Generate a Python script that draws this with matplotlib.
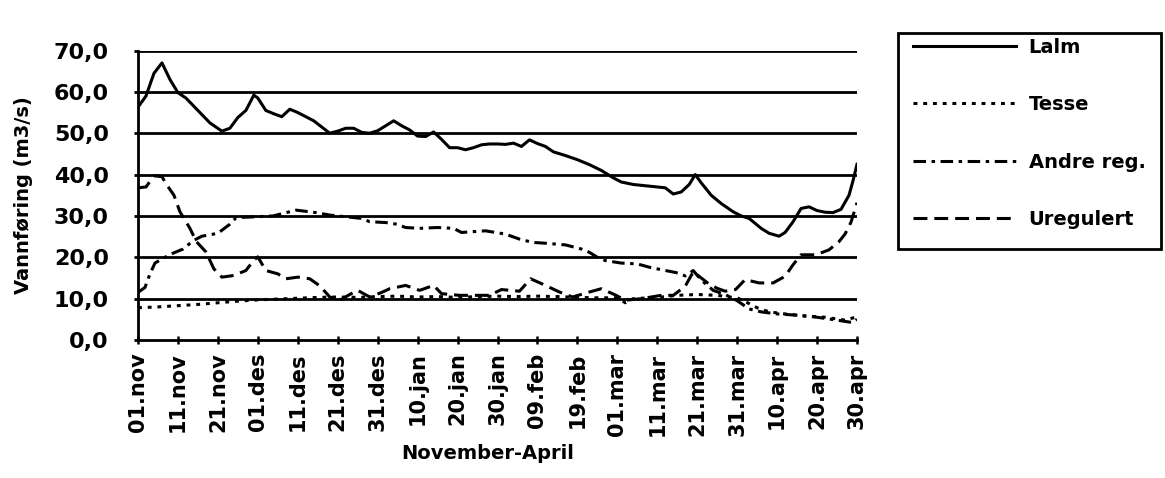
import matplotlib
matplotlib.use("Agg")
import matplotlib.pyplot as plt
from matplotlib.patches import Rectangle

# ---- data ----
tick_labels = ["01.nov", "11.nov", "21.nov", "01.des", "11.des", "21.des", "31.des",
               "10.jan", "20.jan", "30.jan", "09.feb", "19.feb", "01.mar", "11.mar",
               "21.mar", "31.mar", "10.apr", "20.apr", "30.apr"]
tick_days = [0, 10, 20, 30, 40, 50, 60, 70, 80, 90, 100, 110, 120, 130, 140, 150, 160, 170, 180]

lalm_days = [0, 2, 4, 6, 8, 10, 12, 15, 18, 21, 23, 25, 27, 29, 30, 32, 34, 36, 38, 40,
             42, 44, 46, 48, 50, 52, 54, 56, 58, 60, 62, 64, 66, 68, 70, 72, 74, 76, 78,
             80, 82, 84, 86, 88, 90, 92, 94, 96, 98, 100, 102, 104, 107, 110, 113, 116,
             119, 121, 124, 127, 130, 132, 134, 136, 138, 139.5, 141, 143.5, 146, 149,
             151, 153, 156, 158, 160.5, 162, 164, 166, 168, 170, 172, 174, 176, 178, 179, 180]
lalm = [56.3, 59, 64.5, 67, 63, 59.8, 58.5, 55.5, 52.5, 50.5, 51.2, 53.8, 55.5, 59.2, 58.5,
        55.5, 54.7, 54, 55.8, 55, 54, 53, 51.5, 50, 50.5, 51.2, 51.2, 50.2, 50, 50.6, 51.8,
        53, 51.8, 50.8, 49.3, 49.2, 50.3, 48.5, 46.5, 46.5, 46, 46.5, 47.2, 47.4, 47.4,
        47.3, 47.6, 46.8, 48.4, 47.5, 46.8, 45.5, 44.6, 43.6, 42.4, 41, 39.2, 38.2, 37.6,
        37.3, 37, 36.8, 35.3, 35.8, 37.6, 40, 38, 35, 33, 31, 30, 29.4, 27, 25.8, 25.1, 26,
        28.6, 31.8, 32.2, 31.3, 30.9, 30.8, 31.6, 35, 38.5, 42.5]

tesse_days = [0, 5, 10, 15, 20, 25, 30, 35, 40, 45, 50, 55, 60, 65, 70, 75, 80, 85, 90, 95,
              100, 105, 110, 115, 120, 122, 124, 130, 135, 140, 145, 148, 150, 152, 155,
              158, 162, 167, 172, 177, 180]
tesse = [7.8, 8, 8.3, 8.6, 9, 9.4, 9.7, 9.9, 10.1, 10.3, 10.4, 10.3, 10.5, 10.6, 10.4, 10.5,
         10.3, 10.5, 10.6, 10.5, 10.6, 10.5, 10.3, 10.2, 10.2, 9, 10, 10.3, 10.8, 11, 10.8,
         10.4, 10.2, 9.3, 7.8, 6.8, 6.3, 5.8, 5.5, 4.8, 5.6]

andre_days = [0, 1.75, 3, 4.25, 6.3, 8.8, 11.3, 13.8, 16, 20, 23, 24.6, 29.6, 33.8, 39.6,
              44.6, 48, 52, 56, 58, 62, 64.8, 67, 70.5, 75, 79, 81, 87, 92, 95.5, 98.8, 102,
              107, 111, 113, 115, 117, 121, 125, 128, 131, 134.7, 137, 139, 141, 144, 147,
              150, 153, 156, 160, 165, 170, 175, 179, 180]
andre = [11.5, 12.7, 16, 18.6, 19.8, 21, 22, 24, 25.1, 25.8, 28, 29.6, 29.8, 30, 31.4, 30.8,
         30.2, 29.8, 29.4, 28.6, 28.4, 28, 27.2, 27, 27.2, 27, 26, 26.4, 25.6, 24.4, 23.6,
         23.4, 23, 22, 21.2, 20, 19.2, 18.6, 18.4, 17.6, 17, 16.3, 15.5, 16.8, 14.5, 12, 11,
         9.5, 7.5, 6.8, 6.3, 6, 5.5, 4.8, 4.2, 5]

ureg_days = [0, 2, 4, 6, 7, 9, 10.5, 13, 14.6, 17, 19, 21, 24, 27, 29, 30, 32, 35, 37, 40,
             43, 45.5, 47, 48, 50.5, 53, 55, 58, 61, 63, 67, 70.5, 74, 76, 80.5, 85.5, 88,
             91, 95.5, 98.3, 102, 105.5, 108.8, 113, 116, 119.7, 122, 126, 131, 134, 137,
             139, 141, 143, 145, 147, 149.6, 152, 155.5, 159, 162, 164, 166, 169.7, 173,
             175.5, 177, 178.5, 180]
ureg = [36.8, 37, 39.7, 39.5, 37.8, 35, 31, 27, 23.8, 21.3, 17.2, 15.2, 15.6, 16.8, 19.3,
        20.1, 16.8, 16, 14.8, 15.2, 14.8, 13.1, 11.5, 10.4, 9.6, 11, 12, 10.4, 11.5, 12.4,
        13.2, 12, 13.2, 11.2, 10.8, 10.8, 10.8, 12.2, 11.8, 14.8, 13.2, 11.6, 10.4, 11.6,
        12.4, 10.8, 9.6, 10, 10.8, 10.8, 13, 16.5, 15, 13.5, 12.5, 11.8, 12.2, 14.6, 13.8,
        13.8, 15.4, 18.2, 20.6, 20.6, 21.8, 23.8, 25.6, 28.5, 33.2]

series_names = ["Lalm", "Tesse", "Andre reg.", "Uregulert"]
yticks = [0, 10, 20, 30, 40, 50, 60, 70]

# ---- figure ----
plt.rcParams['lines.scale_dashes'] = False
plt.rcParams['font.family'] = ['DejaVu Sans']
plt.rcParams['font.weight'] = 'bold'

W, H = 1165, 478
fig = plt.figure(figsize=(W / 100, H / 100), dpi=100)
fig.patch.set_facecolor('white')
x0, x1 = 138, 857
y_top, y_bot = 50.5, 340
ax = fig.add_axes([x0 / W, 1 - y_bot / H, (x1 - x0) / W, (y_bot - y_top) / H])

lw = 2.2
l1, = ax.plot(lalm_days, lalm, color='black', lw=lw, linestyle='-', label=series_names[0])
l2, = ax.plot(tesse_days, tesse, color='black', lw=lw, linestyle=(0, (2.8, 4.2)), label=series_names[1])
l3, = ax.plot(andre_days, andre, color='black', lw=lw, linestyle=(0, (9, 4, 2.5, 4)), label=series_names[2])
l4, = ax.plot(ureg_days, ureg, color='black', lw=lw, linestyle=(0, (10, 5)), label=series_names[3])

ax.set_xlim(0, 180)
ax.set_ylim(0, 70)
for v in yticks[1:]:
    ax.axhline(v, color='black', lw=2.0, zorder=1)

ax.set_yticks(yticks)
ax.set_yticklabels([f"{v:.1f}".replace('.', ',') for v in yticks])
ax.set_xticks(tick_days)
ax.set_xticklabels(tick_labels, rotation=90)

for s in ['top', 'right']:
    ax.spines[s].set_visible(False)
for s in ['left', 'bottom']:
    ax.spines[s].set_linewidth(2.0)

ax.tick_params(axis='y', direction='out', length=3, width=2, pad=18, labelsize=16)
ax.tick_params(axis='x', direction='inout', length=6, width=1.8, pad=6, labelsize=15)
for t in ax.get_xticklabels() + ax.get_yticklabels():
    t.set_fontweight('bold')

ax.set_ylabel("Vannføring (m3/s)", fontsize=14, fontweight='bold')
ax.yaxis.set_label_coords(-0.146, 0.5)
ax.set_xlabel("November-April", fontsize=14, fontweight='bold', va='top')
ax.xaxis.set_label_coords(0.487, -0.36)

# legend
leg = fig.legend(handles=[l1, l2, l3, l4], loc='upper left',
                 bbox_to_anchor=(913 / W, 1 - 38 / H), bbox_transform=fig.transFigure,
                 frameon=False, borderpad=0, borderaxespad=0,
                 handlelength=5.3, handletextpad=0.65, labelspacing=1.97,
                 prop={'size': 14, 'weight': 'bold'})
fig.patches.append(Rectangle((898 / W, 1 - 249 / H), 263 / W, 216 / H,
                             transform=fig.transFigure, fill=False,
                             edgecolor='black', lw=2.0))

fig.savefig("out.png", dpi=100)
